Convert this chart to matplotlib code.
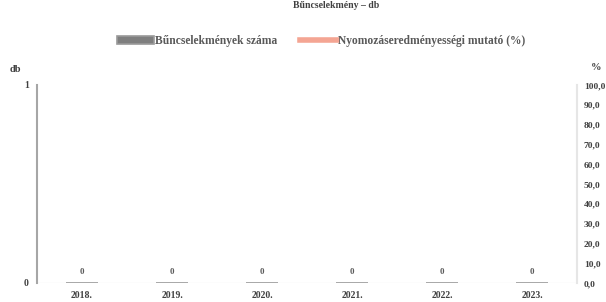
import matplotlib
matplotlib.use("Agg")
import matplotlib.pyplot as plt
import numpy as np

# adatok
evek = ["2018.", "2019.", "2020.", "2021.", "2022.", "2023."]
bucselekmenyek = [0, 0, 0, 0, 0, 0]
eredmenyesseg = [0, 0, 0, 0, 0, 0]
bal_tickek = [0, 1]
jobb_tickek = [0, 10, 20, 30, 40, 50, 60, 70, 80, 90, 100]

plt.rcParams["font.family"] = ["Liberation Serif", "DejaVu Serif"]

fig = plt.figure(figsize=(6.06, 3.02), dpi=100)
ax = fig.add_axes([37 / 606, 19 / 302, 540 / 606, 198 / 302])
ax2 = ax.twinx()

x = np.arange(len(evek))
bars = ax.bar(x, bucselekmenyek, width=0.35, color="#7f7f7f", edgecolor="#9a9a9a",
              linewidth=1.2, label="Bűncselekmények száma", zorder=3)
ax2.plot(x, eredmenyesseg, color="#f4a593", linewidth=2.5, alpha=0.0)
line_legend, = ax2.plot([], [], color="#f4a593", linewidth=4,
                        label="Nyomozáseredményességi mutató (%)")

for xi, v in zip(x, bucselekmenyek):
    ax.text(xi, 0.055, f"{v}", ha="center", va="center", fontsize=6.5,
            fontweight="bold", color="#595959")

ax.set_xlim(-0.5, len(evek) - 0.5)
ax.set_ylim(0, 1)
ax2.set_ylim(0, 100)
ax.set_xticks(x)
ax.set_xticklabels(evek, fontsize=7, fontweight="bold", color="#404040")
ax.set_yticks(bal_tickek)
ax.set_yticklabels([str(t) for t in bal_tickek], fontsize=7, fontweight="bold", color="#404040")
ax2.set_yticks(jobb_tickek)
ax2.set_yticklabels([f"{t:.1f}".replace(".", ",") for t in jobb_tickek],
                    fontsize=6.8, fontweight="bold", color="#404040")

ax.tick_params(axis="both", length=0, pad=6)
ax2.tick_params(axis="y", length=0, pad=5)
for s in ["top", "right", "bottom"]:
    ax.spines[s].set_visible(False)
for s in ["top", "left", "bottom"]:
    ax2.spines[s].set_visible(False)
ax.spines["left"].set_color("#a6a6a6")
ax.spines["left"].set_linewidth(1.5)
ax2.spines["right"].set_color("#e6e6e6")
ax2.spines["right"].set_linewidth(1.5)
ax.axhline(0, color="#f0f0f0", linewidth=1, zorder=1)

fig.text(15 / 606, 1 - 72 / 302, "db", fontsize=7.5, fontweight="bold", color="#404040", ha="center")
fig.text(596 / 606, 1 - 70 / 302, "%", fontsize=7.5, fontweight="bold", color="#404040", ha="center")

# cím
fig.text(0.555, 1 - 6 / 302, "Bűncselekmény – db", fontsize=7, fontweight="bold",
         color="#404040", ha="center", va="center")

fig.legend(handles=[bars, line_legend], loc="center", bbox_to_anchor=(0.53, 1 - 41 / 302),
           ncol=2, frameon=False, handlelength=3.2, columnspacing=2,
           handletextpad=0.1, prop={"weight": "bold", "size": 8.3})
for t in fig.legends[0].get_texts():
    t.set_color("#595959")

fig.savefig("out.png", dpi=100)
